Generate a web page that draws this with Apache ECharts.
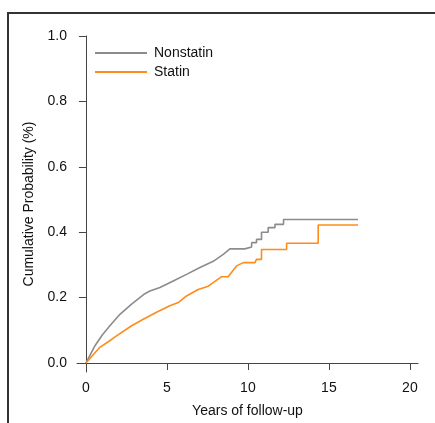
<!DOCTYPE html>
<html>
<head>
<meta charset="utf-8">
<script src="https://cdn.jsdelivr.net/npm/echarts@6/dist/echarts.min.js"></script>
<style>
  html, body { margin: 0; padding: 0; background: #fff; }
  #chart { width: 435px; height: 423px; }
</style>
</head>
<body>
<div id="chart"></div>
<script>
// tick labels
var xTicks = [0, 5, 10, 15, 20];
var yTicks = [0, 0.2, 0.4, 0.6, 0.8, 1.0];

// Nonstatin curve (years, cumulative probability)
var nonstatinYears = [0, 0.56, 1.0, 1.48, 2.1, 2.82, 3.64, 3.95, 4.57, 5.39, 6.21, 7.04, 7.86, 8.48, 8.89, 9.81, 9.81, 10.23, 10.23, 10.53, 10.53, 10.84, 10.84, 11.25, 11.25, 11.67, 11.67, 12.2, 12.2, 16.8];
var nonstatinProb = [0, 0.053, 0.085, 0.114, 0.149, 0.18, 0.212, 0.22, 0.231, 0.251, 0.271, 0.292, 0.311, 0.332, 0.349, 0.349, 0.355, 0.355, 0.368, 0.368, 0.378, 0.378, 0.4, 0.4, 0.414, 0.414, 0.424, 0.424, 0.439, 0.439];

// Statin curve
var statinYears = [0, 0.86, 1.38, 1.89, 2.82, 3.54, 4.36, 5.18, 5.7, 6.21, 6.93, 7.55, 8.38, 8.78, 9.3, 9.71, 10.43, 10.53, 10.84, 10.84, 12.39, 12.39, 14.34, 14.34, 16.8];
var statinProb = [0, 0.048, 0.065, 0.083, 0.114, 0.134, 0.155, 0.175, 0.185, 0.205, 0.225, 0.235, 0.264, 0.264, 0.297, 0.307, 0.307, 0.317, 0.317, 0.347, 0.347, 0.366, 0.366, 0.422, 0.422];

function pairs(xs, ys) {
  return xs.map(function (x, i) { return [x, ys[i]]; });
}

var myChart = echarts.init(document.getElementById('chart'));
var font = 'Liberation Sans, Arial, sans-serif';

var option = {
  animation: false,
  textStyle: { fontFamily: font },
  // outer frame (top + left only)
  graphic: [{
    type: 'polyline',
    shape: { points: [[8, 423], [8, 13], [435, 13]] },
    style: { stroke: '#333', lineWidth: 2, fill: null }
  }],
  legend: {
    orient: 'vertical',
    left: 90,
    top: 41,
    itemGap: 5,
    itemWidth: 52,
    itemHeight: 2,
    icon: 'rect',
    textStyle: { fontSize: 14, color: '#111', fontFamily: font, padding: [0, 0, 0, 2] },
    data: ['Nonstatin', 'Statin']
  },
  grid: { left: 77, right: 17, top: 36, bottom: 50 },
  xAxis: {
    type: 'value',
    min: -0.55,
    max: 20.5,
    name: 'Years of follow-up',
    nameLocation: 'middle',
    nameGap: 32,
    nameTextStyle: { fontSize: 14, color: '#111' },
    splitLine: { show: false },
    axisLine: { lineStyle: { color: '#444', width: 1 } },
    axisTick: { customValues: xTicks, length: 7, lineStyle: { color: '#444' } },
    axisLabel: { customValues: xTicks, fontSize: 14, color: '#111', margin: 9 }
  },
  yAxis: {
    type: 'value',
    min: -0.0275,
    max: 1.0,
    name: 'Cumulative Probability (%)',
    nameLocation: 'middle',
    nameGap: 40,
    nameTextStyle: { fontSize: 14, color: '#111' },
    splitLine: { show: false },
    axisLine: { show: true, lineStyle: { color: '#444', width: 1 } },
    axisTick: { show: true, customValues: yTicks, length: 7, lineStyle: { color: '#444' } },
    axisLabel: {
      customValues: yTicks, fontSize: 14, color: '#111', margin: 10,
      formatter: function (v) { return v.toFixed(1); }
    }
  },
  series: [
    {
      name: 'Nonstatin',
      type: 'line',
      showSymbol: false,
      color: '#8c8c8c',
      lineStyle: { width: 1.6, color: '#8c8c8c' },
      data: pairs(nonstatinYears, nonstatinProb)
    },
    {
      name: 'Statin',
      type: 'line',
      showSymbol: false,
      color: '#ff8c1a',
      lineStyle: { width: 1.6, color: '#ff8c1a' },
      data: pairs(statinYears, statinProb)
    }
  ]
};
myChart.setOption(option);
</script>
</body>
</html>
